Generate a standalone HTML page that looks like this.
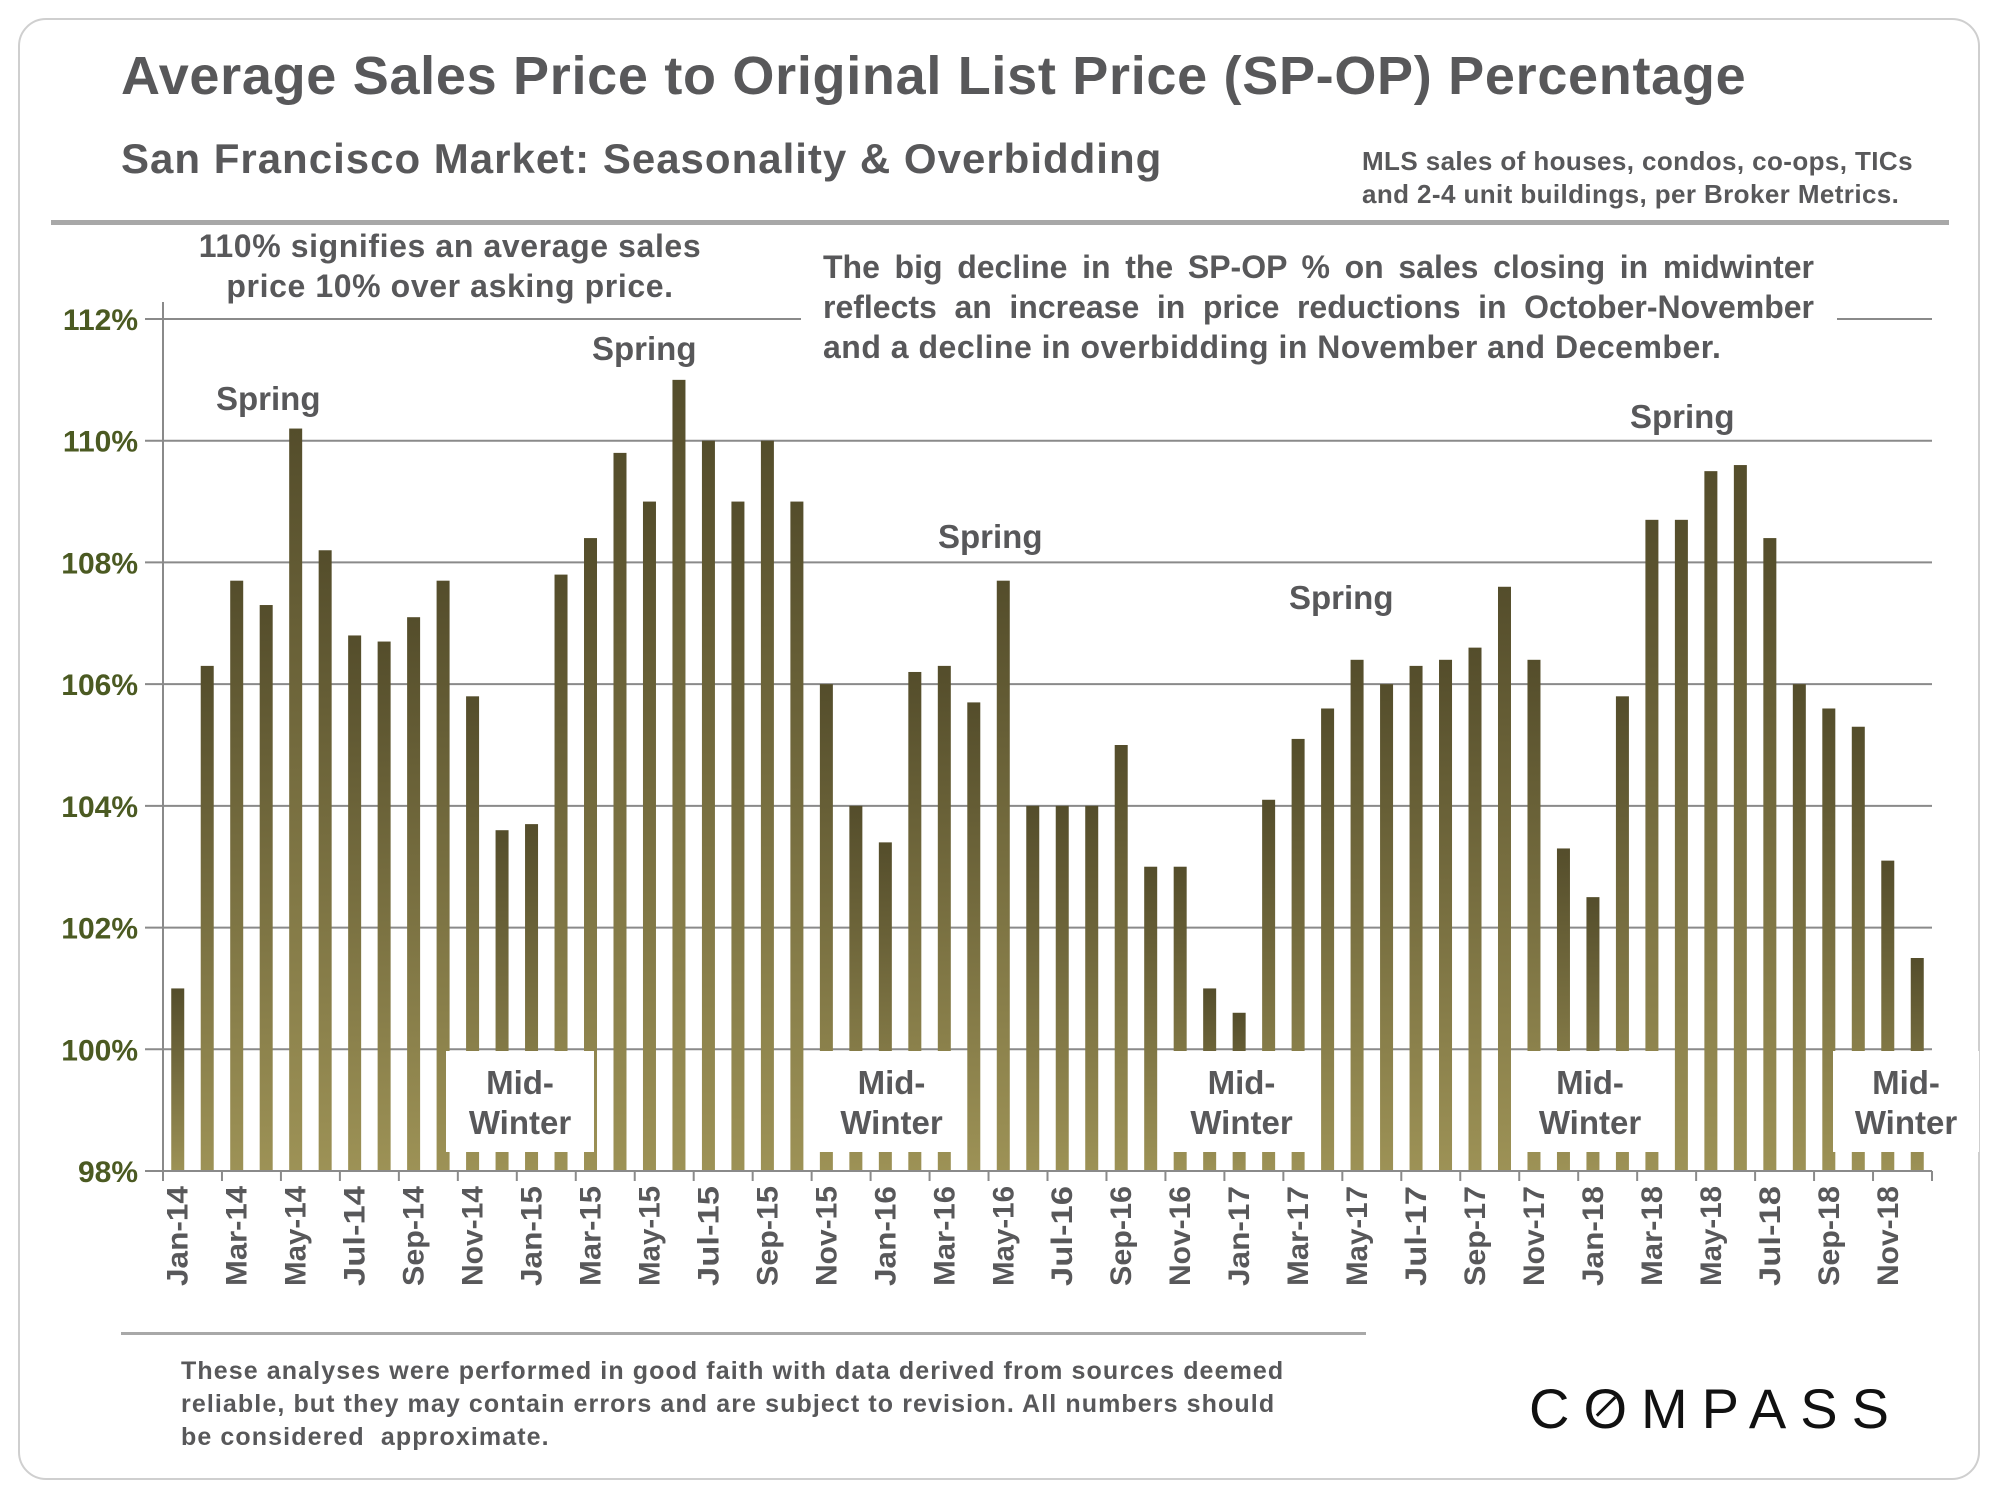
<!DOCTYPE html>
<html><head><meta charset="utf-8">
<style>
html,body{margin:0;padding:0;background:#fff;}
body{width:2000px;height:1500px;position:relative;overflow:hidden;font-family:"Liberation Sans",Arial,sans-serif;font-weight:bold;color:#58585a;}
.abs{position:absolute;}
.mw{background:#fff;text-align:center;font-size:33px;line-height:40px;padding-top:12px;box-sizing:border-box;height:101px;top:1051px;position:absolute;}
.sp{position:absolute;font-size:33px;}
</style></head>
<body>
<div class="abs" style="left:18px;top:18px;width:1962px;height:1462px;border:2px solid #cfcfcf;border-radius:28px;box-sizing:border-box;"></div>
<div class="abs" style="left:121px;top:45px;font-size:54px;letter-spacing:0.7px;white-space:nowrap;">Average Sales Price to Original List Price (SP-OP) Percentage</div>
<div class="abs" style="left:121px;top:135px;font-size:42px;letter-spacing:1px;white-space:nowrap;">San Francisco Market: Seasonality &amp; Overbidding</div>
<div class="abs" style="left:1362px;top:145px;font-size:26px;letter-spacing:0.4px;line-height:33px;white-space:nowrap;">MLS sales of houses, condos, co-ops, TICs<br>and 2-4 unit buildings, per Broker Metrics.</div>
<div class="abs" style="left:51px;top:220px;width:1898px;height:5px;background:#a8a8a8;"></div>
<svg class="abs" id="chart" style="left:0;top:0" width="2000" height="1500"></svg>
<div class="abs" style="left:160px;top:226px;width:580px;text-align:center;font-size:32px;letter-spacing:0.6px;line-height:40px;">110% signifies an average sales<br>price 10% over asking price.</div>
<div class="abs" style="left:801px;top:247px;width:1036px;height:123px;background:#fff;font-size:32px;line-height:40px;">
  <div style="margin-left:22px;width:991px;text-align:justify;text-align-last:justify;">The big decline in the SP-OP % on sales closing in midwinter</div>
  <div style="margin-left:22px;width:991px;text-align:justify;text-align-last:justify;">reflects an increase in price reductions in October-November</div>
  <div style="margin-left:22px;width:991px;letter-spacing:0.5px;">and a decline in overbidding in November and December.</div>
</div>
<div class="sp" style="left:216px;top:380px;">Spring</div>
<div class="sp" style="left:592px;top:330px;">Spring</div>
<div class="sp" style="left:938px;top:518px;">Spring</div>
<div class="sp" style="left:1289px;top:579px;">Spring</div>
<div class="sp" style="left:1630px;top:398px;">Spring</div>
<div class="mw" style="left:446px;width:148px;">Mid-<br>Winter</div>
<div class="mw" style="left:816px;width:151px;">Mid-<br>Winter</div>
<div class="mw" style="left:1167px;width:149px;">Mid-<br>Winter</div>
<div class="mw" style="left:1515px;width:150px;">Mid-<br>Winter</div>
<div class="mw" style="left:1833px;width:146px;">Mid-<br>Winter</div>
<div class="abs" style="left:121px;top:1332px;width:1245px;height:3px;background:#a8a8a8;"></div>
<div class="abs" style="left:181px;top:1355px;font-size:25px;letter-spacing:1.1px;line-height:33px;white-space:nowrap;">These analyses were performed in good faith with data derived from sources deemed<br>reliable, but they may contain errors and are subject to revision. All numbers should<br>be considered&nbsp; approximate.</div>
<div class="abs" style="left:1529px;top:1376px;font-size:56px;font-weight:normal;letter-spacing:14px;color:#111;white-space:nowrap;">C<span style="display:inline-block;position:relative;">O<span style="position:absolute;left:10px;top:29px;width:26px;height:3px;background:#111;transform:rotate(-45deg);"></span></span>MPASS</div>
<script>
const categories=[];
const monthNames=["Jan","Feb","Mar","Apr","May","Jun","Jul","Aug","Sep","Oct","Nov","Dec"];
const years=["14","15","16","17","18"];
years.forEach(y=>monthNames.forEach(m=>categories.push(m+"-"+y)));
const values2014=[101.0,106.3,107.7,107.3,110.2,108.2,106.8,106.7,107.1,107.7,105.8,103.6];
const values2015=[103.7,107.8,108.4,109.8,109.0,111.0,110.0,109.0,110.0,109.0,106.0,104.0];
const values2016=[103.4,106.2,106.3,105.7,107.7,104.0,104.0,104.0,105.0,103.0,103.0,101.0];
const values2017=[100.6,104.1,105.1,105.6,106.4,106.0,106.3,106.4,106.6,107.6,106.4,103.3];
const values2018=[102.5,105.8,108.7,108.7,109.5,109.6,108.4,106.0,105.6,105.3,103.1,101.5];
const values=[].concat(values2014,values2015,values2016,values2017,values2018);
const yTicks=[98,100,102,104,106,108,110,112];
const yTickLabels=["98%","100%","102%","104%","106%","108%","110%","112%"];

const svg=document.getElementById('chart');
const NS="http://www.w3.org/2000/svg";
const X0=163,X1=1932,Y0=1171,Y1=319,YMIN=98,YMAX=112;
const slot=(X1-X0)/categories.length;
const yScale=v=>Y0-(v-YMIN)/(YMAX-YMIN)*(Y0-Y1);
const xCenter=i=>X0+slot*(i+0.5);
function mk(tag,attrs){const e=document.createElementNS(NS,tag);for(const k in attrs)e.setAttribute(k,attrs[k]);svg.appendChild(e);return e;}
const defs=mk('defs',{});
const g=document.createElementNS(NS,'linearGradient');
g.setAttribute('id','barGrad');g.setAttribute('x1','0');g.setAttribute('y1','0');g.setAttribute('x2','0');g.setAttribute('y2','1');
g.innerHTML='<stop offset="0" stop-color="#544d2b"/><stop offset="1" stop-color="#9d9256"/>';
defs.appendChild(g);
yTicks.forEach((t,i)=>{
  const y=yScale(t);
  const l=mk('line',{x1:X0-18,x2:X1,y1:y,y2:y,stroke:'#8a8a8a','stroke-width':2});
  
  
  const tx=mk('text',{x:138,y:y+11,'text-anchor':'end','font-size':30,'font-weight':'bold',fill:'#4b5a22','font-family':'Liberation Sans, sans-serif'});
  tx.textContent=yTickLabels[i];
  
  
});
const ax=mk('line',{x1:X0,x2:X0,y1:302,y2:Y0,stroke:'#8a8a8a','stroke-width':2});


values.forEach((v,i)=>{
  const w=13,y=yScale(v);
  const r=mk('rect',{x:xCenter(i)-w/2,y:y,width:w,height:Y0-y,fill:'url(#barGrad)'});
  
  
});
const xa=mk('line',{x1:X0,x2:X1,y1:Y0,y2:Y0,stroke:'#8a8a8a','stroke-width':2});


for(let i=0;i<=categories.length;i+=2){
  const tk=mk('line',{x1:X0+slot*i,x2:X0+slot*i,y1:Y0,y2:Y0+10,stroke:'#8a8a8a','stroke-width':2});
  
  
}
categories.forEach((c,i)=>{
  if(i%2) return;
  const x=xCenter(i)+10,y=1186;
  const t=mk('text',{x:x,y:y,transform:`rotate(-90 ${x} ${y})`,'text-anchor':'end','font-size':30,'font-weight':'bold',fill:'#58585a','font-family':'Liberation Sans, sans-serif',textLength:100,lengthAdjust:'spacingAndGlyphs'});
  t.textContent=c;
  
  
});
</script>
</body></html>
